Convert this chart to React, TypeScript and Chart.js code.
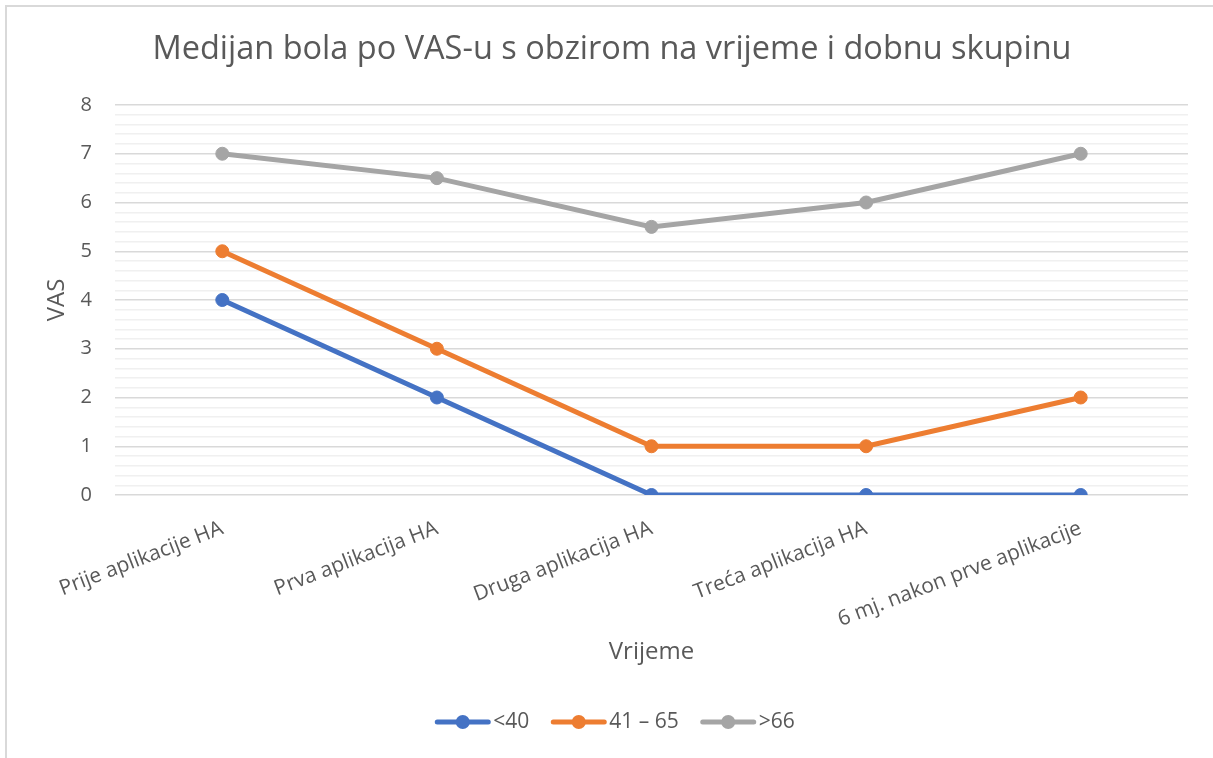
import React, { useEffect, useRef } from 'react';
import { Chart, registerables } from 'chart.js';

Chart.register(...registerables);

const titleText = 'Medijan bola po VAS-u s obzirom na vrijeme i dobnu skupinu';
const xAxisTitle = 'Vrijeme';
const yAxisTitle = 'VAS';
const categories = [
  'Prije aplikacije HA',
  'Prva aplikacija HA',
  'Druga aplikacija HA',
  'Treća aplikacija HA',
  '6 mj. nakon prve aplikacije',
];
const seriesLabels = ['<40', '41 – 65', '>66'];
const under40 = [4, 2, 0, 0, 0];
const from41to65 = [5, 3, 1, 1, 2];
const over66 = [7, 6.5, 5.5, 6, 7];
const seriesColors = ['#4472C4', '#ED7D31', '#A5A5A5'];
const yMin = 0;
const yMax = 8;
const yMinorStep = 0.2;

const FONT = '"Open Sans", sans-serif';
const TEXT = '#595959';

const frame = {
  id: 'frame',
  beforeDraw(chart: any) {
    const { ctx, width, height } = chart;
    ctx.save();
    ctx.fillStyle = '#ffffff';
    ctx.fillRect(0, 0, width, height);
    ctx.fillStyle = '#d9d9d9';
    ctx.fillRect(5, 5, width - 5, 2);
    ctx.fillRect(5, 5, 2, height - 5);
    ctx.restore();
  },
  afterDraw(chart: any) {
    const { ctx } = chart;
    ctx.save();
    ctx.font = `32.5px ${FONT}`;
    ctx.fillStyle = TEXT;
    ctx.textAlign = 'center';
    ctx.textBaseline = 'middle';
    ctx.fillText(titleText, 612, 50);
    ctx.restore();
  },
};

const customLegend = {
  id: 'customLegend',
  afterDraw(chart: any) {
    const { ctx } = chart;
    ctx.save();
    ctx.font = `21px ${FONT}`;
    const lineLen = 55;
    const gapText = 3;
    const gapItem = 22;
    const items = chart.data.datasets.map((ds: any) => ({
      label: ds.label as string,
      color: ds.borderColor as string,
      w: ctx.measureText(ds.label).width,
    }));
    const total =
      items.reduce((s: number, it: any) => s + lineLen + gapText + it.w, 0) +
      gapItem * (items.length - 1);
    let x = 615 - total / 2;
    const y = 722;
    for (const it of items) {
      ctx.strokeStyle = it.color;
      ctx.lineWidth = 5;
      ctx.lineCap = 'round';
      ctx.beginPath();
      ctx.moveTo(x + 2, y);
      ctx.lineTo(x + lineLen - 2, y);
      ctx.stroke();
      ctx.fillStyle = it.color;
      ctx.beginPath();
      ctx.arc(x + lineLen / 2, y, 7, 0, Math.PI * 2);
      ctx.fill();
      ctx.fillStyle = TEXT;
      ctx.textBaseline = 'middle';
      ctx.textAlign = 'left';
      ctx.fillText(it.label, x + lineLen + gapText, y);
      x += lineLen + gapText + it.w + gapItem;
    }
    ctx.restore();
  },
};

const isMajor = (v: number) => Math.abs(v - Math.round(v)) < 1e-6;

export default function App() {
  const ref = useRef<HTMLCanvasElement | null>(null);

  useEffect(() => {
    if (!ref.current) return;
    const values = [under40, from41to65, over66];
    const chart = new Chart(ref.current, {
      type: 'line',
      data: {
        labels: categories,
        datasets: values.map((d, i) => ({
          label: seriesLabels[i],
          data: d,
          borderColor: seriesColors[i],
          backgroundColor: seriesColors[i],
          pointBackgroundColor: seriesColors[i],
          pointBorderColor: seriesColors[i],
          borderWidth: 5,
          pointRadius: 6.5,
          pointBorderWidth: 1,
          tension: 0,
          fill: false,
        })),
      },
      options: {
        animation: false,
        responsive: false,
        layout: { padding: { left: 8, right: 25, top: 105, bottom: 88 } },
        plugins: {
          legend: { display: false },
          tooltip: { enabled: false },
          title: { display: false },
        },
        scales: {
          x: {
            type: 'category',
            offset: true,
            grid: { display: false },
            border: { display: false },
            ticks: {
              color: TEXT,
              font: { family: FONT, size: 21 },
              minRotation: 21,
              maxRotation: 21,
              padding: 13,
              autoSkip: false,
            },
            title: {
              display: true,
              text: xAxisTitle,
              color: TEXT,
              font: { family: FONT, size: 24, lineHeight: 1.2 },
              padding: { top: 0, bottom: 3 },
            },
            afterFit(scale: any) {
              scale.height = 175;
            },
          },
          y: {
            type: 'linear',
            min: yMin,
            max: yMax,
            border: { display: false },
            grid: {
              drawTicks: false,
              lineWidth: 1.5,
              color: (c: any) => (c.tick && isMajor(c.tick.value) ? '#d9d9d9' : '#f0f0f0'),
            },
            ticks: {
              stepSize: yMinorStep,
              autoSkip: false,
              color: TEXT,
              font: { family: FONT, size: 20 },
              padding: 23,
              callback: (v: any) => (isMajor(Number(v)) ? String(Math.round(Number(v))) : ''),
            },
            title: {
              display: true,
              text: yAxisTitle,
              color: TEXT,
              font: { family: FONT, size: 24, lineHeight: 1.2 },
              padding: { top: 35, bottom: 0 },
            },
            afterFit(scale: any) {
              scale.width = 107;
            },
          },
        },
      },
      plugins: [frame, customLegend],
    });
    return () => chart.destroy();
  }, []);

  return (
    <div style={{ position: 'fixed', left: 0, top: 0, width: 1213, height: 758 }}>
      <canvas ref={ref} width={1213} height={758} style={{ display: 'block' }} />
    </div>
  );
}
